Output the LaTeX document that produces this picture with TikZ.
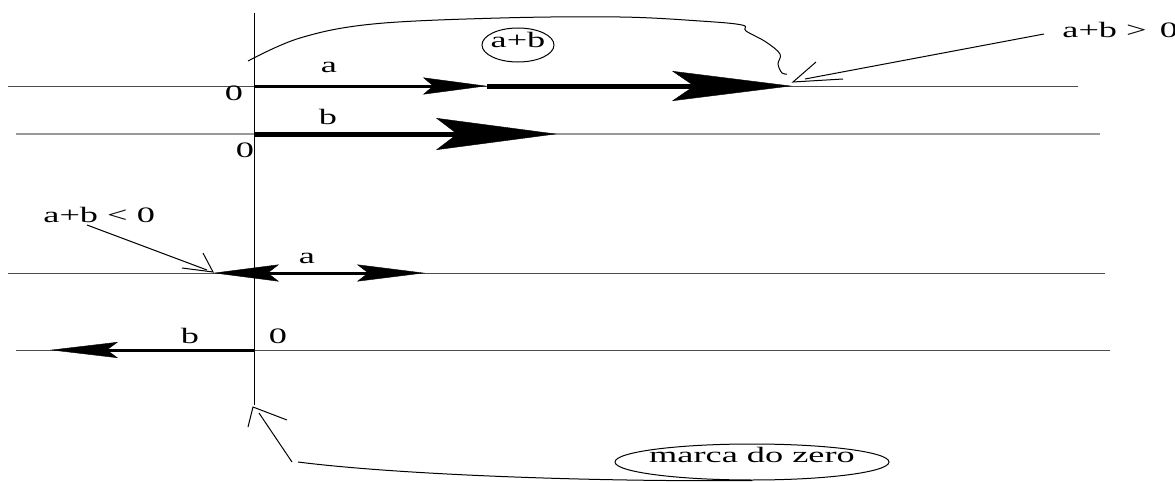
\documentclass[tikz,border=0pt]{standalone}
\usepackage{fontspec}
\setmainfont[FakeStretch=1.65]{Liberation Serif}
\usetikzlibrary{arrows.meta,shapes.geometric}
\begin{document}
\begin{tikzpicture}[x=0.5pt,y=-0.5pt,
  axisline/.style={line width=0.5pt, draw=black!70},
  greyline/.style={line width=0.6pt, draw=black!40},
  thinline/.style={line width=0.5pt, draw=black},
  vecthin/.style={line width=1.5pt, draw=black},
  vecthick/.style={line width=2.5pt, draw=black},
  lbl/.style={font=\fontsize{11}{13}\selectfont, inner sep=0pt, anchor=base},
  headS/.style={-{Stealth[length=32pt,width=8.5pt,inset=5pt,line width=0.2pt]}},
  headL/.style={-{Stealth[length=60pt,width=15pt,inset=11pt,line width=0.2pt]}},
  headB/.style={-{Stealth[length=60.5pt,width=16pt,inset=10.5pt,line width=0.2pt]}},
  headD/.style={{Stealth[length=33pt,width=8.5pt,inset=5.5pt,line width=0.2pt]}-{Stealth[length=34pt,width=8.5pt,inset=5.5pt,line width=0.2pt]}},
  headF/.style={-{Stealth[length=34pt,width=8pt,inset=5.5pt,line width=0.2pt]}}
]
\path[use as bounding box] (0,0) rectangle (1175,482);

% number lines
\coordinate (l1w) at (8,86);    \coordinate (l1e) at (1078,86);
\coordinate (l2w) at (16,134);  \coordinate (l2e) at (1100,134);
\coordinate (l3w) at (8,273);   \coordinate (l3e) at (1105,273);
\coordinate (l4w) at (16,350);  \coordinate (l4e) at (1110,350);
\draw[axisline] (l1w) -- (l1e);
\draw[greyline] (l2w) -- (l2e);
\draw[axisline] (l3w) -- (l3e);
\draw[axisline] (l4w) -- (l4e);

% zero mark (vertical)
\coordinate (vt) at (254,13);
\coordinate (vb) at (254,405);
\draw[thinline] (vt) -- (vb);

% vectors, first pair
\coordinate (o1) at (254,86);
\coordinate (a1) at (487,86);
\coordinate (s1) at (792,86);
\draw[vecthin, headS] (o1) -- (a1);
\draw[vecthick, headL] (a1) -- (s1);
\coordinate (o2) at (254,134);
\coordinate (b2) at (557,134);
\draw[vecthick, headB] (o2) -- (b2);

% vectors, second pair
\coordinate (s3) at (213,273);
\coordinate (a3) at (425,273);
\draw[vecthin, headD] (s3) -- (a3);
\coordinate (o4) at (254,350);
\coordinate (b4) at (50,350);
\draw[vecthin, headF] (o4) -- (b4);

% labels
\node[lbl] (la1) at (329,72) {a};
\node[lbl] (lb2) at (328,125) {b};
\node[lbl] (z1) at (234,100) {0};
\node[lbl] (z2) at (245,157) {0};
\node[lbl] (la3) at (307,263) {a};
\node[lbl] (lb4) at (190,343) {b};
\node[lbl] (z4) at (278,343) {0};

% a+b in ellipse, with curve to the sum tip
\node[draw, ellipse, line width=0.5pt, minimum width=36pt, minimum height=17pt, inner sep=0pt] (sumell) at (518,45) {};
\node[lbl] (sumtxt) at (518,47) {a+b};
\draw[thinline] plot[smooth, tension=0.6] coordinates {(248,61) (300,38) (373,24) (500,18) (620,17) (700,21) (742,25) (746,31) (766,42) (780,54) (778,64) (782,73) (787,74)};

% a+b > 0 pointer
\node[lbl, anchor=base west] (gt) at (1062,38) {a+b > \hspace{2pt}0};
\coordinate (gts) at (1044,34);
\coordinate (gtt) at (793,82);
\draw[thinline] (gts) -- (805,79);
\draw[thinline] (816,62) -- (gtt) -- (843,79);

% a+b < 0 pointer
\node[lbl, anchor=base west] (lt) at (43,222) {a+b < 0};
\coordinate (lts) at (87,225);
\coordinate (ltt) at (213,272);
\draw[thinline] (lts) -- (207,270);
\draw[thinline] (203,253) -- (ltt) -- (182,268);

% marca do zero
\node[draw, ellipse, line width=0.5pt, minimum width=137pt, minimum height=18pt, inner sep=0pt] (mz) at (752,462) {};
\node[lbl] (mztxt) at (752,462) {marca do zero};
\coordinate (mzt) at (253,407);
\draw[thinline] (248,427) -- (mzt) -- (287,420);
\draw[thinline] (259,413) -- (292,462);
\draw[thinline] (298,462) .. controls (400,475) and (600,482) .. (mz.south);
\end{tikzpicture}
\end{document}
